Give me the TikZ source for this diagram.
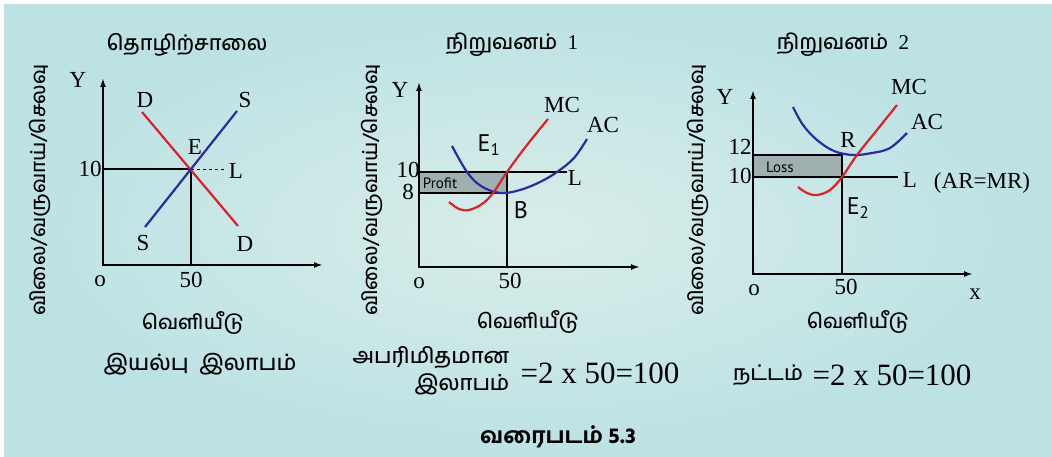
\documentclass[tikz,border=0pt]{standalone}
\usepackage{fontspec}
\setmainfont{Liberation Serif}
\setsansfont{PT Sans}
\newfontfamily\tamil[Script=Tamil, UprightFont=* Medium, BoldFont=* Bold]{Hind Madurai}
\usetikzlibrary{arrows.meta}
\definecolor{bgouter}{RGB}{188,226,228}
\definecolor{bginner}{RGB}{216,237,233}
\definecolor{curvered}{RGB}{222,32,42}
\definecolor{curveblue}{RGB}{42,42,165}
\definecolor{boxgray}{RGB}{160,176,176}
\tikzset{
  axis_line/.style = {line width=2.4pt, black, <->, line join=miter},% axes
  guide_line/.style = {line width=2.4pt, black},% price / output lines
  mc_curve/.style = {line width=2.2pt, curvered, smooth, tension=0.6},
  ac_curve/.style = {line width=2.2pt, curveblue, smooth, tension=0.6},
  area_box/.style = {fill=boxgray},% profit / loss area
  lbl/.style = {inner sep=0pt, font=\fontsize{23}{25}\selectfont},
  sans_lbl/.style = {inner sep=0pt, font=\sffamily\fontsize{24}{26}\selectfont},
  small_lbl/.style = {inner sep=0pt, font=\sffamily\fontsize{15}{17}\selectfont},
  tamil_lbl/.style = {inner sep=0pt, font=\tamil\fontsize{20}{23}\selectfont},
  big_lbl/.style = {inner sep=0pt, font=\fontsize{31}{34}\selectfont},
  side_lbl/.style = {tamil_lbl, rotate=90}
}

\begin{document}
\begin{tikzpicture}[x=1pt, y=-1pt, >={Latex[length=9pt,width=6pt]}]
    \path[use as bounding box] (0,0) rectangle (1052,457);
    \shade[inner color=bginner, outer color=bgouter] (4,5) rectangle (1052,457);

    % industry
    \coordinate (o1) at (103,265);
    \coordinate (y1) at (103,78);
    \coordinate (x1) at (323,265);
    \coordinate (p1) at (103,169);
    \coordinate (e1) at (191,169);
    \coordinate (q1) at (191,265);
    \coordinate (l1) at (225,169);
    \coordinate (dtop) at (142,112);
    \coordinate (dbot) at (238,226);
    \coordinate (sbot) at (145,227);
    \coordinate (stop) at (237,111);
    \draw[axis_line] (y1) -- (o1) -- (x1);
    \draw[guide_line] (p1) -- (e1) -- (q1);
    \draw[thin, dashed] (e1) -- (l1);
    \draw[line width=2.2pt, curvered] (dtop) -- (dbot);
    \draw[line width=2.2pt, curveblue] (sbot) -- (stop);
    \node[tamil_lbl, font=\tamil\fontsize{21}{24}\selectfont] (t1) at (187,45) {தொழிற்சாலை};
    \node[lbl] (ya1) at (78,80) {Y};
    \node[lbl] (d1) at (145,100) {D};
    \node[lbl] (s1) at (245,100) {S};
    \node[lbl] (en1) at (195,147) {E};
    \node[lbl] (ln1) at (236,171) {L};
    \node[lbl] (s2) at (143,243) {S};
    \node[lbl] (d2) at (245,244) {D};
    \node[lbl] (ten1) at (90,169) {10};
    \node[lbl] (or1) at (100,281) {o};
    \node[lbl] (fifty1) at (191,280) {50};
    \node[side_lbl] (v1) at (40,190) {விலை/வருவாய்/செலவு};
    \node[tamil_lbl] (out1) at (193,323) {வெளியீடு};
    \node[tamil_lbl, font=\tamil\fontsize{22}{25}\selectfont] (np) at (200,364) {இயல்பு\ \ இலாபம்};

    % firm 1
    \coordinate (o2) at (419,267);
    \coordinate (y2) at (419,82);
    \coordinate (x2) at (640,267);
    \coordinate (p2) at (419,172);
    \coordinate (l2) at (567,172);
    \coordinate (c2) at (419,193);
    \coordinate (b2) at (507,193);
    \coordinate (e2) at (507,172);
    \coordinate (q2) at (507,267);
    \draw[area_box] (p2) rectangle (b2);
    \draw[axis_line] (y2) -- (o2) -- (x2);
    \draw[guide_line] (p2) -- (l2);
    \draw[guide_line] (c2) -- (b2);
    \draw[guide_line] (e2) -- (q2);
    \draw[ac_curve] plot coordinates {(452,146) (467,172) (481,186) (500,193) (520,190) (540,182) (557,172) (574,158) (587,139)};
    \draw[mc_curve] plot coordinates {(449,202) (459,209) (469,210) (482,204) (493,193) (507,172) (527,145) (548,119)};
    \node[tamil_lbl, font=\tamil\fontsize{21}{24}\selectfont] (t2) at (512,45) {நிறுவனம்\ \ {\rmfamily 1}};
    \node[lbl] (ya2) at (400,90) {Y};
    \node[lbl] (ten2) at (408,170) {10};
    \node[lbl] (eight2) at (408,192) {8};
    \node[small_lbl] (profit) at (440,183) {Profit};
    \node[sans_lbl] (en2) at (489,145) {E\textsubscript{1}};
    \node[sans_lbl] (bn2) at (521,210) {B};
    \node[lbl] (mc2) at (562,105) {MC};
    \node[lbl] (ac2) at (603,125) {AC};
    \node[lbl] (ln2) at (575,178) {L};
    \node[lbl] (or2) at (419,283) {o};
    \node[lbl] (fifty2) at (510,281) {50};
    \node[side_lbl] (v2) at (372,190) {விலை/வருவாய்/செலவு};
    \node[tamil_lbl] (out2) at (528,322) {வெளியீடு};
    \node[tamil_lbl, font=\tamil\fontsize{21.5}{24}\selectfont] (sp1) at (431,358) {அபரிமிதமான};
    \node[tamil_lbl, font=\tamil\fontsize{21.5}{24}\selectfont] (sp2) at (462,384) {இலாபம்};
    \node[big_lbl] (sum2) at (600,373) {=2 x 50=100};

    % firm 2
    \coordinate (o3) at (753,274);
    \coordinate (y3) at (753,90);
    \coordinate (x3) at (973,274);
    \coordinate (p3) at (753,155);
    \coordinate (r3) at (842,155);
    \coordinate (c3) at (753,177);
    \coordinate (l3) at (898,177);
    \coordinate (e3) at (842,177);
    \coordinate (q3) at (842,274);
    \draw[area_box] (p3) rectangle (e3);
    \draw[axis_line] (y3) -- (o3) -- (x3);
    \draw[guide_line] (p3) -- (r3) -- (q3);
    \draw[guide_line] (c3) -- (l3);
    \draw[ac_curve] plot coordinates {(793,107) (803,125) (817,140) (834,151) (853,155) (872,153) (890,148) (907,133)};
    \draw[mc_curve] plot coordinates {(798,187) (807,193) (817,195) (830,190) (842,177) (857,155) (877,130) (897,105)};
    \node[tamil_lbl, font=\tamil\fontsize{21}{24}\selectfont] (t3) at (843,45) {நிறுவனம்\ \ {\rmfamily 2}};
    \node[lbl] (ya3) at (725,97) {Y};
    \node[lbl] (twelve3) at (740,147) {12};
    \node[lbl] (ten3) at (740,176) {10};
    \node[small_lbl] (loss) at (780,167) {Loss};
    \node[lbl] (rn3) at (848,140) {R};
    \node[sans_lbl] (en3) at (858,208) {E\textsubscript{2}};
    \node[lbl] (mc3) at (909,87) {MC};
    \node[lbl] (ac3) at (927,122) {AC};
    \node[lbl] (ln3) at (910,180) {L};
    \node[lbl] (armr) at (982,183) {(AR=MR)};
    \node[lbl] (or3) at (754,290) {o};
    \node[lbl] (fifty3) at (846,287) {50};
    \node[lbl] (xa3) at (975,294) {x};
    \node[side_lbl] (v3) at (698,190) {விலை/வருவாய்/செலவு};
    \node[tamil_lbl] (out3) at (858,322) {வெளியீடு};
    \node[tamil_lbl, font=\tamil\fontsize{21}{24}\selectfont] (ls1) at (768,375) {நட்டம்};
    \node[big_lbl] (sum3) at (892,375) {=2 x 50=100};

    \node[tamil_lbl, font=\tamil\bfseries\fontsize{22}{25}\selectfont] (cap) at (558,437) {வரைபடம் 5.3};
\end{tikzpicture}
\end{document}
